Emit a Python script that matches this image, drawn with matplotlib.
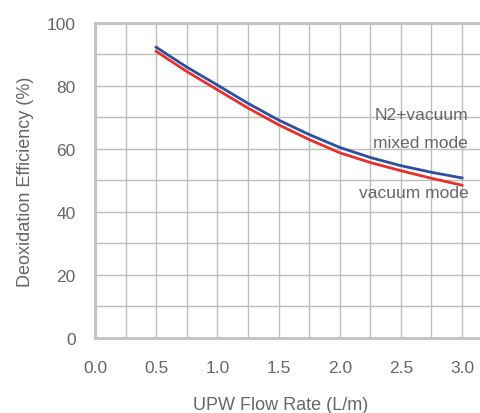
import matplotlib
matplotlib.use("Agg")
import matplotlib.pyplot as plt
from matplotlib.ticker import MultipleLocator, FormatStrFormatter

flow = [0.5, 0.75, 1.0, 1.25, 1.5, 1.75, 2.0, 2.25, 2.5, 2.75, 3.0]
mixed = [92.3, 86.0, 80.3, 74.5, 69.2, 64.6, 60.5, 57.3, 54.7, 52.6, 50.8]
vacuum = [91.0, 84.6, 78.8, 73.0, 67.7, 63.0, 58.8, 55.7, 53.1, 50.7, 48.5]

txt = "#666666"
plt.rcParams['font.family'] = ['Liberation Sans', 'DejaVu Sans']

fig = plt.figure(figsize=(4.81, 4.14), dpi=100)
ax = fig.add_axes([0.1975, 0.1812, 0.8025, 0.7609])

ax.plot(flow, mixed, color="#2d4fa0", lw=2, zorder=3)
ax.plot(flow, vacuum, color="#e8302a", lw=2, zorder=3)

ax.set_xlim(0, 3.155)
ax.set_ylim(0, 100)
ax.xaxis.set_major_locator(MultipleLocator(0.5))
ax.xaxis.set_minor_locator(MultipleLocator(0.25))
ax.yaxis.set_major_locator(MultipleLocator(20))
ax.yaxis.set_minor_locator(MultipleLocator(10))
ax.xaxis.set_major_formatter(FormatStrFormatter('%.1f'))
ax.grid(which='both', color="#bdbdbd", lw=1)
ax.tick_params(which='both', length=0, colors=txt, labelsize=12.5)
ax.tick_params(axis='x', pad=16)
ax.tick_params(axis='y', pad=14)

for side in ['left', 'bottom', 'top']:
    ax.spines[side].set_color("#c4c4c4")
    ax.spines[side].set_linewidth(2.2)
ax.spines['right'].set_visible(False)

fig.text(281 / 481, 1 - 406 / 414, "UPW Flow Rate (L/m)", color=txt,
         fontsize=13, ha='center', va='center')
ax.set_ylabel("Deoxidation Efficiency (%)", color=txt, fontsize=13, labelpad=9)

ax.text(3.05, 71, "N2+vacuum", color=txt, fontsize=12.5, ha='right', va='center')
ax.text(3.05, 62.2, "mixed mode", color=txt, fontsize=12.5, ha='right', va='center')
ax.text(3.05, 46.3, "vacuum mode", color=txt, fontsize=12.5, ha='right', va='center')

fig.savefig("out.png", dpi=100)
